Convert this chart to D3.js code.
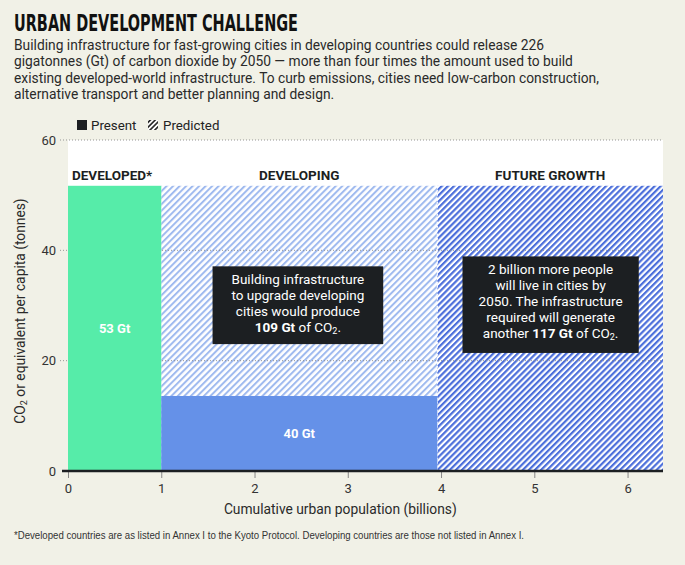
<!DOCTYPE html>
<html>
<head>
<meta charset="utf-8">
<script src="https://cdn.jsdelivr.net/npm/d3@7"></script>
<style>
  body { margin: 0; background: #f1f1e7; }
  svg { display: block; font-family: Roboto, "Noto Sans", sans-serif; }
</style>
</head>
<body>
<div id="chart"></div>
<script>
// regions along the cumulative urban population axis (billions)
const regions = ["DEVELOPED*", "DEVELOPING", "FUTURE GROWTH"];
const popStart = [0, 1, 3.96];
const popEnd = [1, 3.96, 6.38];
// per-capita CO2 (tonnes)
const presentValues = [51.7, 13.6, 0];
const predictedValues = [0, 51.7, 51.7];
const presentLabels = ["53 Gt", "40 Gt", ""];

const yTicks = [0, 20, 40, 60];
const xTicks = [0, 1, 2, 3, 4, 5, 6];

const subtitle = [
  "Building infrastructure for fast-growing cities in developing countries could release 226",
  "gigatonnes (Gt) of carbon dioxide by 2050 \u2014 more than four times the amount used to build",
  "existing developed-world infrastructure. To curb emissions, cities need low-carbon construction,",
  "alternative transport and better planning and design."
];

const notes = [
  { x0: 1.55, x1: 3.38, y0: 37.1, y1: 23.0, lines: [
    [["Building infrastructure", false]],
    [["to upgrade developing", false]],
    [["cities would produce", false]],
    [["109 Gt", true], [" of CO", false], ["2", "sub"], [".", false]]
  ]},
  { x0: 4.23, x1: 6.12, y0: 38.9, y1: 21.4, lines: [
    [["2 billion more people", false]],
    [["will live in cities by", false]],
    [["2050. The infrastructure", false]],
    [["required will generate", false]],
    [["another ", false], ["117 Gt", true], [" of CO", false], ["2", "sub"], [".", false]]
  ]}
];

const colors = {
  developed: "#56eca9",
  developing: "#6591e8",
  hatchLight: "#9fbaef",
  hatchDark: "#4c6fdb"
};

const width = 685, height = 565;
const svg = d3.select("#chart").append("svg")
  .attr("width", width).attr("height", height);

svg.append("rect").attr("width", width).attr("height", height).attr("fill", "#f1f1e7");

const x = d3.scaleLinear().domain([0, 6.38]).range([68, 663]);
const y = d3.scaleLinear().domain([0, 60]).range([471, 140]);

// patterns
const defs = svg.append("defs");
function hatch(id, color, w, gap) {
  const p = defs.append("pattern").attr("id", id)
    .attr("patternUnits", "userSpaceOnUse")
    .attr("width", gap).attr("height", gap)
    .attr("patternTransform", "rotate(45)");
  p.append("rect").attr("width", gap).attr("height", gap).attr("fill", "#fff");
  p.append("rect").attr("width", w).attr("height", gap).attr("fill", color);
}
hatch("hLight", colors.hatchLight, 2, 4.6);
hatch("hDark", colors.hatchDark, 2.2, 4.3);
hatch("hLegend", "#222", 1.6, 3.4);

// title + subtitle
svg.append("text").attr("x", 14).attr("y", 31)
  .attr("textLength", 284).attr("lengthAdjust", "spacingAndGlyphs")
  .style("font-family", "'Liberation Sans Narrow', 'DejaVu Sans Condensed', sans-serif")
  .style("font-weight", 700).style("font-size", "23px").attr("fill", "#111")
  .text("URBAN DEVELOPMENT CHALLENGE");

svg.append("g").selectAll("text").data(subtitle).join("text")
  .attr("x", 14).attr("y", (d, i) => 50 + i * 16.3)
  .style("font-size", "13.8px").attr("fill", "#2a2a2a")
  .text(d => d);

// legend
const lg = svg.append("g").style("font-size", "13.3px").attr("fill", "#222");
lg.append("rect").attr("x", 77).attr("y", 120).attr("width", 10).attr("height", 10).attr("fill", "#1c1f22");
lg.append("text").attr("x", 91).attr("y", 130).text("Present");
lg.append("rect").attr("x", 148).attr("y", 120).attr("width", 10).attr("height", 10).attr("fill", "url(#hLegend)");
lg.append("text").attr("x", 163).attr("y", 130).text("Predicted");

// plot background
svg.append("rect").attr("x", x(0)).attr("y", y(60))
  .attr("width", x(6.38) - x(0)).attr("height", y(0) - y(60)).attr("fill", "#fff");

// predicted (hatched)
const idx = d3.range(regions.length);
svg.append("g").selectAll("rect").data(idx.filter(i => predictedValues[i] > 0)).join("rect")
  .attr("x", i => x(popStart[i]))
  .attr("y", i => y(predictedValues[i]))
  .attr("width", i => x(popEnd[i]) - x(popStart[i]))
  .attr("height", i => y(0) - y(predictedValues[i]))
  .attr("fill", i => i === 1 ? "url(#hLight)" : "url(#hDark)");

// divider between hatched regions
svg.append("line")
  .attr("x1", x(popStart[2])).attr("x2", x(popStart[2]))
  .attr("y1", y(predictedValues[2])).attr("y2", y(0))
  .attr("stroke", "#fff").attr("stroke-width", 1.2).attr("stroke-dasharray", "2,2");

// grid lines
const grid = svg.append("g");
grid.selectAll("line").data(yTicks.filter(d => d > 0)).join("line")
  .attr("x1", 60).attr("x2", x(6.38))
  .attr("y1", d => y(d)).attr("y2", d => y(d))
  .attr("stroke", "#8a8a8a").attr("stroke-width", 0.9).attr("stroke-dasharray", "1,2");

// present (solid)
svg.append("g").selectAll("rect").data(idx.filter(i => presentValues[i] > 0)).join("rect")
  .attr("x", i => x(popStart[i]))
  .attr("y", i => y(presentValues[i]))
  .attr("width", i => x(popEnd[i]) - x(popStart[i]))
  .attr("height", i => y(0) - y(presentValues[i]))
  .attr("fill", i => i === 0 ? colors.developed : colors.developing);

svg.append("g").selectAll("text").data(idx.filter(i => presentLabels[i])).join("text")
  .attr("x", i => x((popStart[i] + popEnd[i]) / 2))
  .attr("y", i => y(presentValues[i] / 2) + 5)
  .attr("text-anchor", "middle").attr("fill", "#fff")
  .style("font-weight", 700).style("font-size", "13px")
  .text(i => presentLabels[i]);

// region headings
svg.append("g").selectAll("text").data(idx).join("text")
  .attr("x", i => i === 0 ? x(popStart[i]) + 4 : x((popStart[i] + popEnd[i]) / 2))
  .attr("y", 180)
  .attr("text-anchor", i => i === 0 ? "start" : "middle")
  .attr("fill", "#1c1f22")
  .style("font-weight", 700).style("font-size", "13.5px")
  .text(i => regions[i]);

// annotation boxes
notes.forEach(n => {
  const g = svg.append("g");
  g.append("rect").attr("x", x(n.x0)).attr("y", y(n.y0))
    .attr("width", x(n.x1) - x(n.x0)).attr("height", y(n.y1) - y(n.y0))
    .attr("fill", "#1c1f22");
  const cx = x((n.x0 + n.x1) / 2);
  const top = y(n.y0) + 18;
  n.lines.forEach((parts, li) => {
    const t = g.append("text").attr("x", cx).attr("y", top + li * 16)
      .attr("text-anchor", "middle").attr("fill", "#fff").style("font-size", "13.5px");
    parts.forEach(([s, f]) => {
      const ts = t.append("tspan").text(s);
      if (f === true) ts.style("font-weight", 700);
      if (f === "sub") ts.attr("baseline-shift", "-25%").style("font-size", "9px");
    });
  });
});

// x axis
const xAxis = svg.append("g").attr("transform", `translate(0,${y(0)})`)
  .call(d3.axisBottom(x).tickValues(xTicks).tickSize(7).tickPadding(6).tickFormat(d3.format("d")));
xAxis.select(".domain").remove();
xAxis.selectAll(".tick line").attr("stroke", "#888");
xAxis.selectAll(".tick text").attr("fill", "#333").style("font-size", "13px").style("font-family", "Roboto, sans-serif");

svg.append("line").attr("x1", 62).attr("x2", x(6.38))
  .attr("y1", y(0)).attr("y2", y(0)).attr("stroke", "#1c1f22").attr("stroke-width", 2.5);

// y axis labels
const yAxis = svg.append("g").attr("transform", `translate(60,0)`)
  .call(d3.axisLeft(y).tickValues(yTicks).tickSize(0).tickPadding(4));
yAxis.select(".domain").remove();
yAxis.selectAll(".tick text").attr("fill", "#333").style("font-size", "13px").style("font-family", "Roboto, sans-serif");

// axis titles
svg.append("text").attr("x", x(2.92)).attr("y", 514)
  .attr("text-anchor", "middle").attr("fill", "#2a2a2a").style("font-size", "13.8px")
  .text("Cumulative urban population (billions)");

const yt = svg.append("text").attr("transform", "translate(25,311) rotate(-90)")
  .attr("text-anchor", "middle").attr("fill", "#2a2a2a").style("font-size", "13.8px");
yt.append("tspan").text("CO");
yt.append("tspan").text("2").attr("baseline-shift", "-25%").style("font-size", "9px");
yt.append("tspan").text(" or equivalent per capita (tonnes)");

// footnote
svg.append("text").attr("x", 14).attr("y", 539)
  .attr("textLength", 510).attr("lengthAdjust", "spacingAndGlyphs")
  .style("font-family", "'Liberation Sans Narrow', sans-serif").style("font-size", "10px")
  .attr("fill", "#333")
  .text("*Developed countries are as listed in Annex I to the Kyoto Protocol. Developing countries are those not listed in Annex I.");
</script>
</body>
</html>
